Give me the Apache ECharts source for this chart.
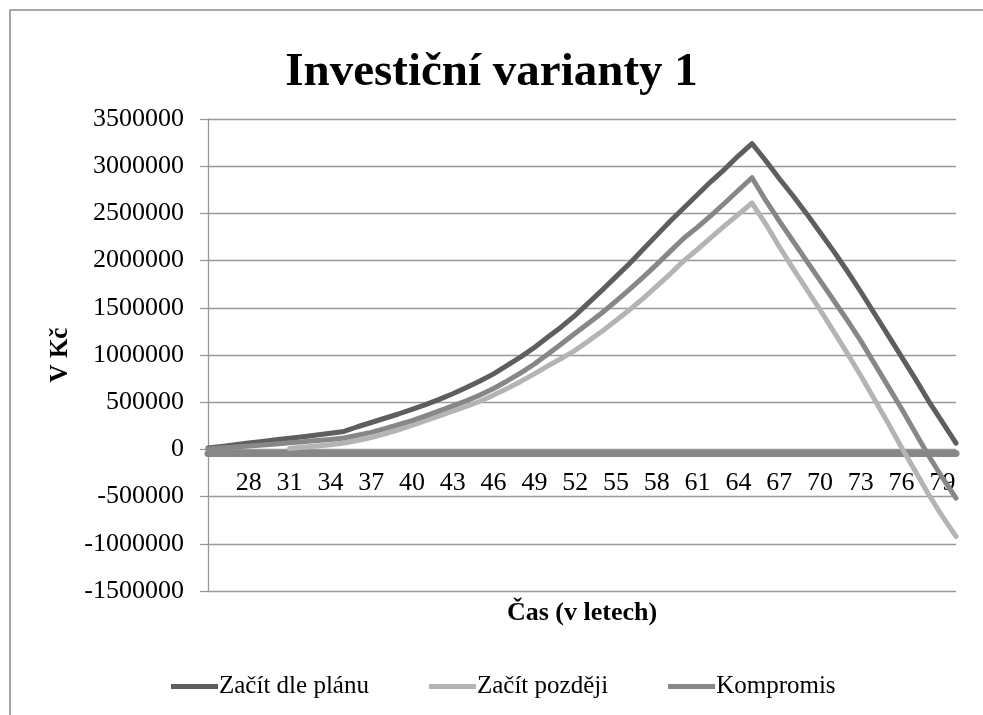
<!DOCTYPE html>
<html>
<head>
<meta charset="utf-8">
<title>Investiční varianty 1</title>
<script src="https://cdn.jsdelivr.net/npm/echarts@6/dist/echarts.min.js"></script>
<style>
  html, body { margin: 0; padding: 0; background: #fff; }
  #chart { width: 983px; height: 715px; }
</style>
</head>
<body>
<div id="chart"></div>
<script>
// vek 25 .. 80
const ages = []
for (let a = 25; a <= 80; a++) ages.push(String(a))

const yTicks = [-1500000, 3500000, 500000] // min, max, krok

const dlePlanu = [
  15000, 32000, 50000, 67000, 85000, 102000, 118000, 135000, 152000, 170000,
  190000, 240000, 285000, 330000, 375000, 425000, 475000, 530000, 590000, 655000,
  725000, 800000, 890000, 980000, 1080000, 1190000, 1300000, 1420000, 1555000, 1690000,
  1830000, 1970000, 2120000, 2270000, 2420000, 2560000, 2700000, 2840000, 2970000, 3110000,
  3240000, 3060000, 2870000, 2690000, 2500000, 2300000, 2100000, 1890000, 1670000, 1440000,
  1210000, 980000, 750000, 510000, 290000, 67000
]

const pozdeji = [
  null, null, null, null, null, null, 10000, 22000, 35000, 50000,
  68000, 95000, 125000, 165000, 208000, 255000, 305000, 355000, 405000, 455000,
  510000, 575000, 645000, 720000, 800000, 885000, 965000, 1050000, 1150000, 1255000,
  1365000, 1480000, 1600000, 1730000, 1860000, 2000000, 2120000, 2245000, 2370000, 2490000,
  2610000, 2390000, 2150000, 1920000, 1700000, 1480000, 1250000, 1020000, 780000, 530000,
  280000, 20000, -230000, -480000, -710000, -922000
]

const kompromis = [
  5000, 15000, 25000, 36000, 47000, 58000, 70000, 82000, 94000, 106000,
  120000, 150000, 180000, 220000, 262000, 305000, 355000, 408000, 462000, 515000,
  575000, 645000, 725000, 810000, 905000, 1010000, 1120000, 1230000, 1340000, 1450000,
  1570000, 1695000, 1825000, 1960000, 2100000, 2240000, 2355000, 2480000, 2610000, 2745000,
  2878000, 2640000, 2420000, 2210000, 2000000, 1790000, 1580000, 1370000, 1150000, 910000,
  670000, 430000, 180000, -70000, -300000, -516000
]

const font = 'Liberation Serif'

const chart = echarts.init(document.getElementById('chart'))

function line(name, data, color) {
  return {
    name: name,
    type: 'line',
    data: data,
    xAxisIndex: 0,
    yAxisIndex: 0,
    symbol: 'none',
    connectNulls: false,
    lineStyle: { color: color, width: 5, cap: 'round', join: 'round' },
    itemStyle: { color: color },
    z: 3
  }
}

const option = {
  animation: false,
  backgroundColor: '#fff',
  textStyle: { fontFamily: font, color: '#000' },
  title: {
    text: 'Investiční varianty 1',
    left: 'center',
    top: 44,
    textStyle: { fontFamily: font, fontSize: 47, fontWeight: 'bold', color: '#000' }
  },
  graphic: [{
    type: 'rect',
    shape: { x: 10, y: 10, width: 1400, height: 900 },
    style: { fill: null, stroke: '#8c8c8c', lineWidth: 1.5 },
    silent: true,
    z: -1
  }],
  legend: {
    top: 669,
    left: 166,
    icon: 'rect',
    itemWidth: 47,
    itemHeight: 5,
    itemGap: 60,
    textStyle: { fontFamily: font, fontSize: 25, color: '#000', padding: [0, 0, 0, -4] },
    data: ['Začít dle plánu', 'Začít později', 'Kompromis']
  },
  grid: {
    left: 208,
    right: 27,
    top: 119,
    bottom: 124,
    containLabel: false,
    outerBoundsMode: 'none'
  },
  xAxis: {
    type: 'category',
    data: ages,
    boundaryGap: false,
    name: 'Čas (v letech)',
    nameLocation: 'middle',
    nameGap: 9,
    nameTextStyle: { fontFamily: font, fontSize: 26, fontWeight: 'bold', color: '#000' },
    axisLine: {
      onZero: true,
      onZeroAxisIndex: 1,
      lineStyle: { color: '#878787', width: 7 }
    },
    axisTick: { show: false },
    axisLabel: {
      interval: 0,
      formatter: (v, idx) => (idx > 0 && idx % 3 === 0 ? v : ''),
      fontFamily: font,
      fontSize: 26,
      color: '#000',
      margin: -121
    },
    splitLine: { show: false }
  },
  yAxis: [{
    type: 'value',
    min: yTicks[0],
    max: yTicks[1],
    interval: yTicks[2],
    name: 'V Kč',
    nameLocation: 'middle',
    nameGap: 135,
    nameRotate: 90,
    nameTextStyle: { fontFamily: font, fontSize: 25, fontWeight: 'bold', color: '#000' },
    axisLine: { show: true, lineStyle: { color: '#999', width: 1.3 } },
    axisTick: { show: true, length: 8, lineStyle: { color: '#999', width: 1.3 } },
    axisLabel: {
      fontFamily: font,
      fontSize: 26,
      color: '#000',
      margin: 24,
      formatter: (v) => String(v)
    },
    splitLine: { show: true, lineStyle: { color: '#999', width: 1.3 } }
  }, {
    // pomocna osa - posune tlustou vodorovnou osu kousek pod nulu
    type: 'value',
    show: false,
    min: yTicks[0] + 40000,
    max: yTicks[1] + 40000,
    splitLine: { show: false }
  }],
  series: [
    line('Začít dle plánu', dlePlanu, '#5e5e5e'),
    line('Začít později', pozdeji, '#b4b4b4'),
    line('Kompromis', kompromis, '#878787')
  ]
}

chart.setOption(option)
window.onresize = () => {
  chart.resize()
}
</script>
</body>
</html>
